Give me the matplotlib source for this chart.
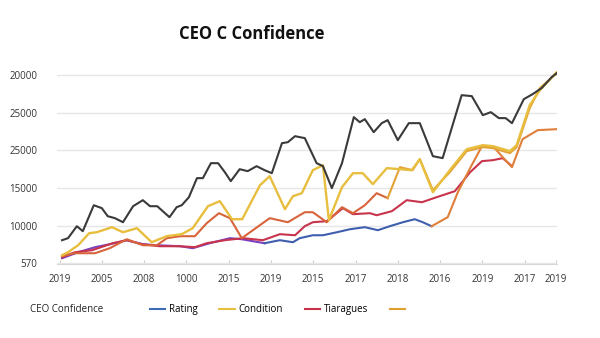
import matplotlib
matplotlib.use("Agg")
import matplotlib.pyplot as plt
from matplotlib.lines import Line2D

plt.rcParams['font.family'] = ['Open Sans', 'DejaVu Sans']

x_labels = ["2019", "2005", "2008", "1000", "2015", "2019", "2015", "2017",
            "2018", "2016", "2019", "2017", "2019"]
x_ticks = [0, 1, 2, 3, 4, 5, 6, 7, 8, 9, 10, 11, 11.73]
y_ticks = [5000, 10000, 15000, 20000, 25000, 30000]
y_labels = ["570", "10000", "15000", "25000", "25000", "20000"]

# top (unlabelled) series
black_x = [0.06, 0.20, 0.41, 0.55, 0.81, 1.00, 1.14, 1.31, 1.50, 1.74, 1.97, 2.14, 2.31,
           2.60, 2.77, 2.89, 3.06, 3.25, 3.39, 3.58, 3.75, 3.91, 4.05, 4.26, 4.45, 4.66,
           4.85, 5.02, 5.26, 5.40, 5.57, 5.68, 5.80, 6.08, 6.23, 6.44, 6.68, 6.96, 7.10,
           7.22, 7.43, 7.62, 7.76, 8.00, 8.26, 8.52, 8.83, 9.06, 9.51, 9.75, 10.01, 10.20,
           10.39, 10.55, 10.70, 10.98, 11.19, 11.40, 11.64, 11.76]
black_y = [8060, 8330, 9920, 9260, 12710, 12320, 11250, 10990, 10450, 12580, 13380, 12580,
           12580, 11120, 12450, 12710, 13780, 16310, 16310, 18300, 18300, 17100, 15910,
           17500, 17240, 17900, 17370, 16970, 20960, 21090, 21890, 21760, 21630, 18300,
           17900, 14980, 18300, 24420, 23750, 24150, 22420, 23620, 24020, 21360, 23620,
           23620, 19230, 18970, 27340, 27210, 24680, 25080, 24290, 24290, 23620, 26810,
           27480, 28280, 29740, 30270]

cond_x = [0.06, 0.20, 0.44, 0.70, 0.88, 1.24, 1.50, 1.83, 2.18, 2.53, 2.89, 3.15, 3.51,
          3.79, 4.08, 4.32, 4.74, 4.97, 5.33, 5.52, 5.73, 5.99, 6.23, 6.37, 6.68, 6.94,
          7.17, 7.41, 7.74, 8.05, 8.33, 8.52, 8.83, 9.23, 9.63, 10.01, 10.25, 10.65, 10.81,
          11.12, 11.36, 11.76]
cond_y = [6060, 6460, 7390, 8990, 9120, 9790, 9120, 9660, 7790, 8590, 8860, 9660, 12580,
          13250, 10850, 10850, 15370, 16570, 12180, 13910, 14310, 17370, 18030, 10720,
          15110, 16970, 16970, 15510, 17640, 17500, 17370, 18830, 14440, 17370, 20160,
          20690, 20560, 19900, 20690, 26010, 28010, 30400]

amber_x = [0.06, 0.36, 0.84, 1.19, 1.59, 1.97, 2.30, 2.54, 2.85, 3.20, 3.48, 3.77, 4.03,
           4.31, 4.97, 5.40, 5.80, 5.99, 6.32, 6.68, 6.94, 7.22, 7.50, 7.76, 8.05, 8.35,
           8.52, 8.83, 9.23, 9.63, 10.01, 10.25, 10.65, 10.81, 11.12, 11.36, 11.76]
amber_y = [5930, 6330, 6330, 7000, 8190, 7390, 7390, 8330, 8590, 8590, 10320, 11650, 10990,
           8330, 10990, 10450, 11780, 11780, 10450, 12450, 11650, 12710, 14310, 13650,
           17770, 17370, 18830, 14710, 17100, 19900, 20430, 20300, 19630, 20430, 25620,
           28280, 30270]

tiar_x = [0.06, 0.36, 0.77, 1.26, 1.59, 1.95, 2.37, 2.85, 3.20, 3.48, 3.91, 4.34, 4.81,
          5.21, 5.57, 5.80, 5.99, 6.32, 6.70, 6.94, 7.34, 7.50, 7.86, 8.21, 8.57, 8.92,
          9.35, 9.71, 9.99, 10.25, 10.48, 10.70]
tiar_y = [5800, 6460, 6730, 7660, 8060, 7530, 7260, 7260, 7130, 7660, 8060, 8330, 8060,
          8860, 8720, 9920, 10450, 10590, 12320, 11520, 11650, 11380, 11920, 13380, 13110,
          13780, 14580, 17100, 18570, 18700, 18970, 17900]

rating_x = [0.06, 0.44, 0.84, 1.19, 1.59, 1.97, 2.30, 2.85, 3.15, 3.55, 4.03, 4.31, 4.57,
            4.85, 5.21, 5.52, 5.68, 5.99, 6.23, 6.56, 6.87, 7.22, 7.53, 7.81, 8.12, 8.40,
            8.59, 8.80, 9.18, 9.42, 9.71, 9.99, 10.25, 10.48, 10.70, 10.95, 11.31, 11.76]
rating_y = [5670, 6460, 7130, 7530, 8060, 7530, 7390, 7260, 7000, 7660, 8330, 8190, 7930,
            7660, 8060, 7790, 8330, 8720, 8720, 9120, 9520, 9790, 9390, 9920, 10450, 10850,
            10450, 9920, 11120, 14440, 17640, 20560, 20560, 19100, 17770, 21490, 22690, 22820]

fig = plt.figure(figsize=(6, 3.38), dpi=100)
ax = fig.add_axes([0.095, 0.219, 0.833, 0.572])

lw = 1.5
ax.plot(black_x, black_y, color="#3a3a3a", lw=lw, zorder=5)
ax.plot(rating_x[:14], rating_y[:14], color="#7a3fc0", lw=lw, zorder=3)
ax.plot(rating_x[13:28], rating_y[13:28], color="#3f5fae", lw=lw, zorder=3)
ax.plot(rating_x[27:], rating_y[27:], color="#e07f3a", lw=lw, zorder=4)
ax.plot(tiar_x, tiar_y, color="#c8344c", lw=lw, zorder=3)
ax.plot(amber_x[:24], amber_y[:24], color="#d8643c", lw=lw, zorder=3)
ax.plot(amber_x[23:], amber_y[23:], color="#e3a236", lw=lw, zorder=4)
ax.plot(cond_x, cond_y, color="#e8be3e", lw=lw + 0.2, zorder=4)

ax.set_xlim(-0.06, 11.76)
ax.set_ylim(4900, 30600)
ax.set_xticks(x_ticks)
ax.set_xticklabels(x_labels)
ax.set_yticks(y_ticks)
ax.set_yticklabels(y_labels)
ax.grid(axis="y", color="#e6e6e6", lw=1)
ax.set_axisbelow(True)
for s in ["top", "right", "left"]:
    ax.spines[s].set_visible(False)
ax.spines["bottom"].set_color("#d8d8d8")
ax.tick_params(axis="x", direction="in", length=3, color="#cccccc", labelsize=7,
               labelcolor="#333333", pad=7)
ax.tick_params(axis="y", length=0, labelsize=7, labelcolor="#333333", pad=14)

fig.text(0.42, 0.898, "CEO C Confidence", ha="center", va="center",
         fontsize=12, fontweight="bold", color="#111111")

fig.text(0.05, 0.083, "CEO Confidence", ha="left", va="center", fontsize=7, color="#222222")
handles = [Line2D([], [], color="#3d6cb5", lw=1.5),
           Line2D([], [], color="#e8c040", lw=1.5),
           Line2D([], [], color="#c83048", lw=1.5),
           Line2D([], [], color="#e0a030", lw=1.5)]
fig.legend(handles, ["Rating", "Condition", "Tiaragues", ""], loc="center left",
           bbox_to_anchor=(0.235, 0.083), ncol=4, frameon=False, fontsize=7,
           handlelength=1.6, handletextpad=0.4, columnspacing=2.2)

fig.savefig("out.png", dpi=100)
